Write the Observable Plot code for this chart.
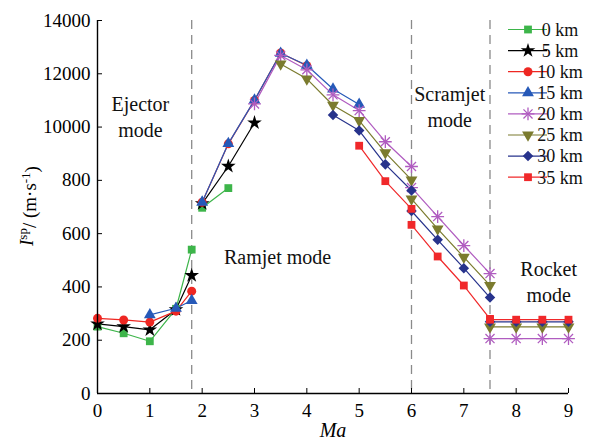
<!DOCTYPE html>
<html><head><meta charset="utf-8">
<script src="https://cdn.jsdelivr.net/npm/d3@7"></script>
<script src="https://cdn.jsdelivr.net/npm/@observablehq/plot@0.6"></script>
<style>
html,body{margin:0;padding:0;background:#fff;}
#chart{width:612px;height:441px;position:relative;}
</style></head><body><div id="chart"></div>
<script>
// ---- data ----
const seriesNames = ["0 km","5 km","10 km","15 km","20 km","25 km","30 km","35 km"];
const seriesColors = ["#3db54a","#000000","#ee2722","#2659b8","#b05cc0","#7b7b2e","#27338c","#f0282a"];

const ejectorMa  = [0, 0.5, 1, 1.5, 1.8];
const ramjetMa   = [2, 2.5, 3, 3.5, 4, 4.5, 5, 5.5, 6];
const scramjetMa = [6, 6.5, 7, 7.5];
const rocketMa   = [7.5, 8, 8.5, 9];

const ejector0km  = [2510, 2260, 1960, 3180, 5400];
const ejector5km  = [2610, 2510, 2390, 3150, 4430];
const ejector10km = [2820, 2760, 2680, 3090, 3840];
const ejector15km = [null, null, 2950, 3200, 3490];

const ramjet0km  = [6970, 7710];
const ramjet5km  = [7130, 8530, 10160];
const ramjet10km = [7180, 9370, 11000, 12780, 12300];
const ramjet15km = [7180, 9380, 11010, 12770, 12320, 11430, 10850];
const ramjet20km = [null, null, 10870, 12690, 12150, 11210, 10620, 9450, 8520];
const ramjet25km = [null, null, null, 12370, 11810, 10820, 10245, 9040, 8020];
const ramjet30km = [null, null, null, null, null, 10450, 9870, 8600, 7620];
const ramjet35km = [null, null, null, null, null, null, 9300, 7970, 6930];

const scramjet20km = [7730, 6640, 5554, 4500];
const scramjet25km = [7306, 6181, 5116, 4060];
const scramjet30km = [6850, 5768, 4703, 3600];
const scramjet35km = [6330, 5142, 4053, 2800];

const rocket20km = [2060, 2060, 2060, 2060];
const rocket25km = [2500, 2500, 2500, 2500];
const rocket30km = [2690, 2690, 2690, 2690];
const rocket35km = [2770, 2770, 2770, 2770];

const modeBounds = [1.8, 6, 7.5];
const xTickValues = [0,1,2,3,4,5,6,7,8,9];
const yTickValues = [0,2000,4000,6000,8000,10000,12000,14000];
const yTickLabels = ["0","200","400","600","800","10000","12000","14000"];
const modeNames = ["Ejector\nmode","Ramjet mode","Scramjet\nmode","Rocket\nmode"];
const modeLabelMa  = [0.82, 3.44, 6.73, 8.62];
const modeLabelIsp = [10420, 5180, 10800, 4220];

// ---- build table ----
const rows = [];
function addSeg(name, mode, mas, vals){
  mas.forEach((m,i)=>{ if(vals[i]!=null) rows.push({ma:m, isp:vals[i], series:name, seg:name+"|"+mode}); });
}
addSeg("0 km","e",ejectorMa,ejector0km);
addSeg("5 km","e",ejectorMa,ejector5km);
addSeg("10 km","e",ejectorMa,ejector10km);
addSeg("15 km","e",ejectorMa,ejector15km);
addSeg("0 km","r",ramjetMa,ramjet0km);
addSeg("5 km","r",ramjetMa,ramjet5km);
addSeg("10 km","r",ramjetMa,ramjet10km);
addSeg("15 km","r",ramjetMa,ramjet15km);
addSeg("20 km","r",ramjetMa,ramjet20km);
addSeg("25 km","r",ramjetMa,ramjet25km);
addSeg("30 km","r",ramjetMa,ramjet30km);
addSeg("35 km","r",ramjetMa,ramjet35km);
addSeg("20 km","s",scramjetMa,scramjet20km);
addSeg("25 km","s",scramjetMa,scramjet25km);
addSeg("30 km","s",scramjetMa,scramjet30km);
addSeg("35 km","s",scramjetMa,scramjet35km);
addSeg("20 km","k",rocketMa,rocket20km);
addSeg("25 km","k",rocketMa,rocket25km);
addSeg("30 km","k",rocketMa,rocket30km);
addSeg("35 km","k",rocketMa,rocket35km);

// marker styles per series
const markerStyles = [
  [{symbol:"square", r:4.4, filled:true}],
  [{symbol:"star", r:4.6, filled:true}],
  [{symbol:"circle", r:4.5, filled:true}],
  [{symbol:"triangle", r:4.4, filled:true}],
  [{symbol:"plus", r:4.2, filled:false},{symbol:"times", r:4.2, filled:false}],
  [{symbol:"triangle", r:4.4, filled:true, rotate:180}],
  [{symbol:"square", r:4.2, filled:true, rotate:45}],
  [{symbol:"square", r:4.4, filled:true}]
];

const dotMarks = [];
seriesNames.forEach((s,i)=>{
  const d = rows.filter(r=>r.series===s);
  markerStyles[i].forEach(st=>{
    dotMarks.push(Plot.dot(d, {x:"ma", y:"isp", symbol:st.symbol, r:st.r,
      rotate: st.rotate || 0,
      fill: st.filled ? seriesColors[i] : "none",
      stroke: st.filled ? "none" : seriesColors[i],
      strokeWidth: 1.3}));
  });
});

const SERIF = "Liberation Serif";

const plot = Plot.plot({
  width: 612, height: 441,
  marginLeft: 97, marginRight: 44, marginTop: 20, marginBottom: 48,
  style: {fontSize: "19px", background: "#fff", color: "#000"},
  x: {domain: [0, 9]},
  y: {domain: [0, 14000]},
  color: {domain: seriesNames, range: seriesColors},
  marks: [
    Plot.ruleX(modeBounds, {stroke:"#8a8a8a", strokeWidth:1.3, strokeDasharray:"9,6"}),
    Plot.line(rows, {x:"ma", y:"isp", z:"seg", stroke:"series", strokeWidth:1.2}),
    ...dotMarks,
    Plot.text(modeNames, {x:(d,i)=>modeLabelMa[i], y:(d,i)=>modeLabelIsp[i], text:d=>d,
      fontSize: 20, lineHeight: 1.3, fill:"#111", fontFamily: SERIF}),
    Plot.axisX({ticks: xTickValues, tickSize: -5, fill: "none", label: null}),
    Plot.axisX({ticks: xTickValues, tickSize: 0, tickPadding: 10, tickFormat: d=>String(d), label: null, fontFamily: SERIF}),
    Plot.axisY({ticks: yTickValues, tickSize: -5, fill: "none", label: null}),
    Plot.axisY({ticks: yTickValues, tickSize: 0, tickPadding: 7, fontFamily: SERIF,
      tickFormat: d=>yTickLabels[yTickValues.indexOf(d)], label: null}),
    Plot.ruleY([0], {stroke:"#000", strokeWidth:1.4}),
    Plot.ruleX([0], {stroke:"#000", strokeWidth:1.4})
  ]
});
document.getElementById("chart").appendChild(plot);

// axis titles and legend
const svg = d3.select(plot);
svg.attr("font-family", SERIF);
const yl = svg.append("text")
  .attr("transform","translate(33,206) rotate(-90)")
  .attr("text-anchor","middle").attr("font-family", SERIF)
  .attr("font-size",19).attr("fill","#000");
yl.append("tspan").attr("font-style","italic").text("I");
yl.append("tspan").attr("dy","-0.45em").attr("font-size",13).text("sp");
yl.append("tspan").attr("dy","0.45em").text("/ (m·s");
yl.append("tspan").attr("dy","-0.45em").attr("font-size",13).text("-1");
yl.append("tspan").attr("dy","0.45em").text(")");

svg.append("text").attr("x",333).attr("y",437).attr("text-anchor","middle")
  .attr("font-family", SERIF).attr("font-size",20).attr("font-style","italic").text("Ma");

const lg = svg.append("g");
seriesNames.forEach((s,i)=>{
  const y = 29.5 + i*21.1;
  const g = lg.append("g");
  g.append("line").attr("x1",508).attr("x2",547).attr("y1",y).attr("y2",y)
    .attr("stroke",seriesColors[i]).attr("stroke-width",1.2);
  markerStyles[i].forEach(st=>{
    const sym = {square:d3.symbolSquare, star:d3.symbolStar, circle:d3.symbolCircle,
      triangle:d3.symbolTriangle, plus:d3.symbolPlus, times:d3.symbolTimes}[st.symbol];
    g.append("path").attr("d", d3.symbol(sym, Math.PI*st.r*st.r)())
      .attr("transform",`translate(528,${y}) rotate(${st.rotate||0})`)
      .attr("fill", st.filled ? seriesColors[i] : "none")
      .attr("stroke", st.filled ? "none" : seriesColors[i]).attr("stroke-width",1.3);
  });
  g.append("text").attr("x",560).attr("y",y).attr("dy","0.35em")
    .attr("font-family", SERIF).attr("font-size",18).attr("fill","#111").text(s);
});
svg.selectAll("text").attr("font-family", SERIF);
</script></body></html>
